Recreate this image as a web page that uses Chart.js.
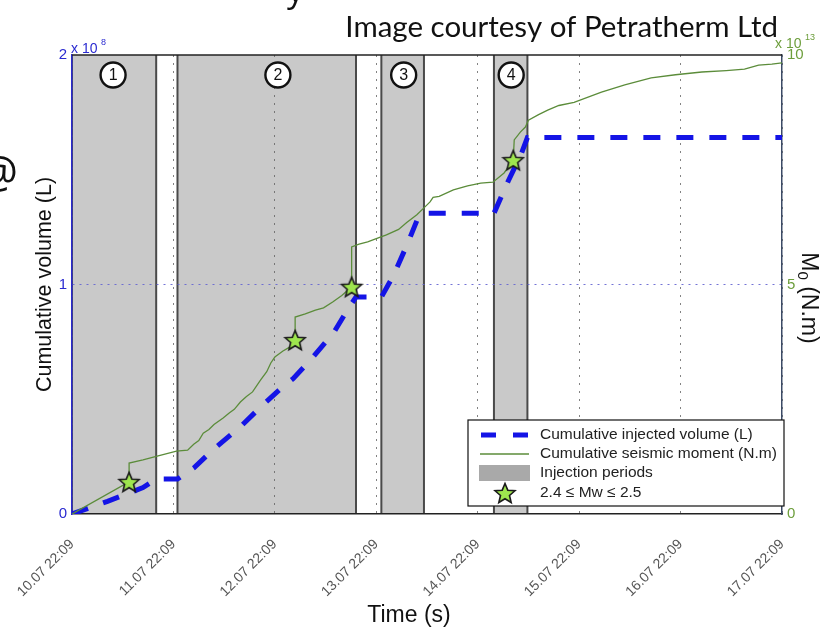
<!DOCTYPE html>
<html><head><meta charset="utf-8">
<script src="https://cdn.jsdelivr.net/npm/chart.js@4.4.0/dist/chart.umd.min.js"></script>
<style>html,body{margin:0;padding:0;background:#fff;}canvas{display:block;}</style>
</head><body>
<canvas id="c" width="821" height="630"></canvas>
<script>
// ---- data (x in days since 10.07 22:09) ----
const dayTicks = ['10.07 22:09','11.07 22:09','12.07 22:09','13.07 22:09','14.07 22:09','15.07 22:09','16.07 22:09','17.07 22:09'];
// cumulative injected volume, x 10^8 L
const volumeDays   = [0, 0.35, 0.70, 0.83, 1.04, 1.20, 1.39, 1.66, 1.88, 2.08, 2.18, 2.35, 2.58, 2.73, 2.80, 3.05, 3.17, 3.31, 3.42, 3.47, 4.16, 4.30, 4.43, 4.49, 7.0];
const volumeValues = [0, 0.055, 0.115, 0.152, 0.152, 0.20, 0.28, 0.38, 0.475, 0.555, 0.59, 0.67, 0.79, 0.90, 0.945, 0.945, 1.04, 1.18, 1.30, 1.31, 1.31, 1.45, 1.57, 1.64, 1.64];
// cumulative seismic moment, x 10^13 N.m
const momentDays   = [0, 0.563, 0.563, 0.70, 0.84, 1.03, 1.14, 1.20, 1.25, 1.294, 1.35, 1.40, 1.49, 1.55, 1.60, 1.66, 1.72, 1.78, 1.86, 1.92, 1.96, 2.0, 2.08, 2.15, 2.20, 2.20, 2.30, 2.40, 2.48, 2.57, 2.66, 2.757, 2.757, 2.83, 2.915, 3.0, 3.10, 3.22, 3.30, 3.40, 3.47, 3.53, 3.56, 3.62, 3.76, 3.90, 4.03, 4.15, 4.26, 4.35, 4.36, 4.42, 4.47, 4.50, 4.60, 4.69, 4.80, 4.95, 5.22, 5.45, 5.71, 5.95, 6.21, 6.45, 6.63, 6.77, 6.90, 7.0];
const momentValues = [0, 0.70, 1.11, 1.18, 1.26, 1.37, 1.39, 1.52, 1.60, 1.76, 1.84, 1.95, 2.09, 2.20, 2.28, 2.44, 2.56, 2.66, 2.92, 3.10, 3.29, 3.42, 3.55, 3.64, 3.79, 4.29, 4.36, 4.44, 4.49, 4.62, 4.76, 4.95, 5.82, 5.88, 5.93, 6.00, 6.08, 6.20, 6.35, 6.52, 6.67, 6.80, 6.90, 6.92, 7.06, 7.15, 7.21, 7.23, 7.43, 7.71, 8.15, 8.32, 8.43, 8.58, 8.70, 8.80, 8.90, 8.97, 9.19, 9.35, 9.50, 9.57, 9.63, 9.66, 9.69, 9.78, 9.80, 9.83];
// events 2.4 <= Mw <= 2.5
const starDays    = [0.563, 2.20, 2.757, 4.35];
const starMoments = [0.70, 3.79, 4.95, 7.71];
// injection periods
const injectionStarts = [0, 1.04, 3.05, 4.16];
const injectionEnds   = [0.83, 2.80, 3.47, 4.49];
const periodLabels    = ['1', '2', '3', '4'];
const periodLabelDays = [0.405, 2.03, 3.27, 4.33];
const legendLabels = ['Cumulative injected volume (L)', 'Cumulative seismic moment (N.m)', 'Injection periods', '2.4 \u2264 Mw \u2264 2.5'];

const FAMILY = '"Liberation Sans", Arial, sans-serif';
Chart.defaults.font.family = FAMILY;
const BLUE = '#1414e6', GREEN = '#5b8c3a', AXBLUE = '#2a2ad0', AXGREEN = '#6d9e3c';

function makeStar(size){
  const c = document.createElement('canvas'); c.width = c.height = size;
  const g = c.getContext('2d'); const cx = size/2, cy = size/2 + 1, R = size/2 - 1.5, r = R*0.45;
  g.beginPath();
  for (let i = 0; i < 10; i++){ const a = -Math.PI/2 + i*Math.PI/5; const rad = i%2 ? r : R; g.lineTo(cx + rad*Math.cos(a), cy + rad*Math.sin(a)); }
  g.closePath(); g.fillStyle = '#9ee64e'; g.fill(); g.strokeStyle = '#1a1a1a'; g.lineWidth = 1.6; g.stroke();
  return c;
}
const starImg = makeStar(24);

const toPts = (xs, ys) => xs.map((d, i) => ({x: d, y: ys[i]}));

const decor = {
  id: 'decor',
  beforeDraw(chart){
    const {ctx, chartArea: a, scales: {x}} = chart;
    ctx.save();
    ctx.fillStyle = '#fff'; ctx.fillRect(0, 0, chart.width, chart.height);
    injectionStarts.forEach((s, i) => {
      const x1 = x.getPixelForValue(s), x2 = x.getPixelForValue(injectionEnds[i]);
      ctx.fillStyle = '#c9c9c9'; ctx.fillRect(x1, a.top, x2 - x1, a.bottom - a.top);
      ctx.strokeStyle = '#4a4a4a'; ctx.lineWidth = 2;
      ctx.beginPath(); ctx.moveTo(x1, a.top); ctx.lineTo(x1, a.bottom); ctx.moveTo(x2, a.top); ctx.lineTo(x2, a.bottom); ctx.stroke();
    });
    ctx.restore();
  },
  afterDraw(chart){
    const {ctx, chartArea: a, scales: {x}} = chart;
    ctx.save();
    // top frame
    ctx.strokeStyle = '#222'; ctx.lineWidth = 1.5;
    ctx.beginPath(); ctx.moveTo(a.left, a.top); ctx.lineTo(a.right, a.top); ctx.stroke();
    // circled period numbers
    periodLabels.forEach((t, i) => {
      const cx = x.getPixelForValue(periodLabelDays[i]), cy = a.top + 20;
      ctx.beginPath(); ctx.arc(cx, cy, 12.5, 0, Math.PI*2);
      ctx.fillStyle = '#fff'; ctx.fill(); ctx.strokeStyle = '#111'; ctx.lineWidth = 2.4; ctx.stroke();
      ctx.fillStyle = '#111'; ctx.font = '16px ' + FAMILY; ctx.textAlign = 'center'; ctx.textBaseline = 'middle';
      ctx.fillText(t, cx, cy + 1);
    });
    // legend
    const lx = 468, ly = 420, lw = 316, lh = 86;
    ctx.fillStyle = '#fff'; ctx.fillRect(lx, ly, lw, lh);
    ctx.strokeStyle = '#111'; ctx.lineWidth = 1.2; ctx.strokeRect(lx, ly, lw, lh);
    const rows = [ly + 15, ly + 34, ly + 53, ly + 73];
    ctx.strokeStyle = BLUE; ctx.lineWidth = 5;
    ctx.beginPath(); ctx.moveTo(481, rows[0]); ctx.lineTo(496, rows[0]); ctx.moveTo(513, rows[0]); ctx.lineTo(528, rows[0]); ctx.stroke();
    ctx.strokeStyle = GREEN; ctx.lineWidth = 1.3;
    ctx.beginPath(); ctx.moveTo(480, rows[1]); ctx.lineTo(529, rows[1]); ctx.stroke();
    ctx.fillStyle = '#a9a9a9'; ctx.fillRect(479, rows[2] - 8, 51, 16);
    ctx.drawImage(starImg, 505 - 12, rows[3] - 12);
    ctx.fillStyle = '#222'; ctx.font = '15.5px ' + FAMILY; ctx.textAlign = 'left'; ctx.textBaseline = 'middle';
    legendLabels.forEach((t, i) => ctx.fillText(t, 540, rows[i]));
    // exponent labels
    ctx.textBaseline = 'alphabetic';
    ctx.fillStyle = AXBLUE; ctx.font = '14px ' + FAMILY; ctx.fillText('x 10', 71, 53);
    ctx.font = '9px ' + FAMILY; ctx.fillText('8', 101, 45);
    ctx.fillStyle = AXGREEN; ctx.font = '14px ' + FAMILY; ctx.fillText('x 10', 775, 48);
    ctx.font = '9px ' + FAMILY; ctx.fillText('13', 805, 40);
    // axis titles drawn at their positions
    ctx.fillStyle = '#111'; ctx.font = '23px ' + FAMILY; ctx.textAlign = 'center'; ctx.textBaseline = 'middle';
    ctx.fillText('Time (s)', 409, 616);
    ctx.save();
    ctx.translate(808, 298); ctx.rotate(Math.PI/2);
    ctx.font = '23px ' + FAMILY; ctx.textAlign = 'left';
    const wM = ctx.measureText('M').width;
    ctx.font = '15px ' + FAMILY; const w0 = ctx.measureText('0').width;
    ctx.font = '23px ' + FAMILY; const wR = ctx.measureText(' (N.m)').width;
    let sx = -(wM + w0 + wR) / 2;
    ctx.fillText('M', sx, 0); sx += wM;
    ctx.font = '15px ' + FAMILY; ctx.fillText('0', sx, 6); sx += w0;
    ctx.font = '23px ' + FAMILY; ctx.fillText(' (N.m)', sx, 0);
    ctx.restore();
    // credit text
    ctx.fillStyle = '#111'; ctx.font = '29.5px Lato, "Open Sans", sans-serif'; ctx.textAlign = 'right'; ctx.textBaseline = 'alphabetic';
    ctx.fillText('Image courtesy of Petratherm Ltd', 778, 37);
    // partially cropped glyphs from the source image
    ctx.font = '34px "Open Sans", sans-serif'; ctx.textAlign = 'left';
    ctx.fillText('y', 287, 2);
    ctx.font = '44px "Open Sans", sans-serif'; ctx.textAlign = 'right';
    ctx.fillText('@', 18, 187);
    ctx.restore();
  }
};

new Chart(document.getElementById('c'), {
  type: 'line',
  data: { datasets: [
    { label: legendLabels[0], data: toPts(volumeDays, volumeValues), yAxisID: 'y', borderColor: BLUE, borderWidth: 5, borderDash: [17, 16], pointRadius: 0, tension: 0, order: 2 },
    { label: legendLabels[1], data: toPts(momentDays, momentValues), yAxisID: 'y2', borderColor: GREEN, borderWidth: 1.3, pointRadius: 0, tension: 0, order: 1 },
    { label: legendLabels[3], data: toPts(starDays, starMoments), yAxisID: 'y2', showLine: false, pointStyle: starImg, pointRadius: 12, order: 0 }
  ]},
  options: {
    responsive: false, animation: false, devicePixelRatio: 1,
    layout: { padding: { top: 55, left: 0, right: 0, bottom: 0 } },
    plugins: { legend: { display: false }, tooltip: { enabled: false } },
    scales: {
      x: {
        type: 'linear', min: 0, max: 7,
        afterFit: s => { s.height = 116; s.paddingLeft = 0; s.paddingRight = 0; },
        ticks: { stepSize: 1, autoSkip: false, minRotation: 45, maxRotation: 45, padding: 22, color: '#555', font: { size: 14 },
                 callback: v => dayTicks[v] },
        grid: { color: 'rgba(90,90,90,0.75)', lineWidth: 1, drawTicks: false },
        border: { color: '#222', width: 1.5, dash: [2, 6] },
        title: { display: false, text: 'Time (s)' }
      },
      y: {
        position: 'left', min: 0, max: 2,
        afterFit: s => { s.width = 72; s.paddingTop = 0; s.paddingBottom = 0; },
        ticks: { stepSize: 1, color: AXBLUE, font: { size: 15 }, padding: 5 },
        grid: { color: c => (c.tick && c.tick.value === 1) ? 'rgba(100,100,210,0.9)' : 'rgba(0,0,0,0)', drawTicks: false },
        border: { color: AXBLUE, width: 1.5, dash: [2, 5] },
        title: { display: true, text: 'Cumulative volume (L)', color: '#111', font: { size: 21.5 }, padding: { top: 32, bottom: 0 } }
      },
      y2: {
        position: 'right', min: 0, max: 10,
        afterFit: s => { s.width = 39; s.paddingTop = 0; s.paddingBottom = 0; },
        ticks: { stepSize: 5, color: AXGREEN, font: { size: 15 }, padding: 5 },
        grid: { display: false, drawTicks: false },
        border: { color: '#3b4a66', width: 1.5 },
        title: { display: false, text: 'M0 (N.m)' }
      }
    }
  },
  plugins: [decor]
});
</script>
</body></html>
